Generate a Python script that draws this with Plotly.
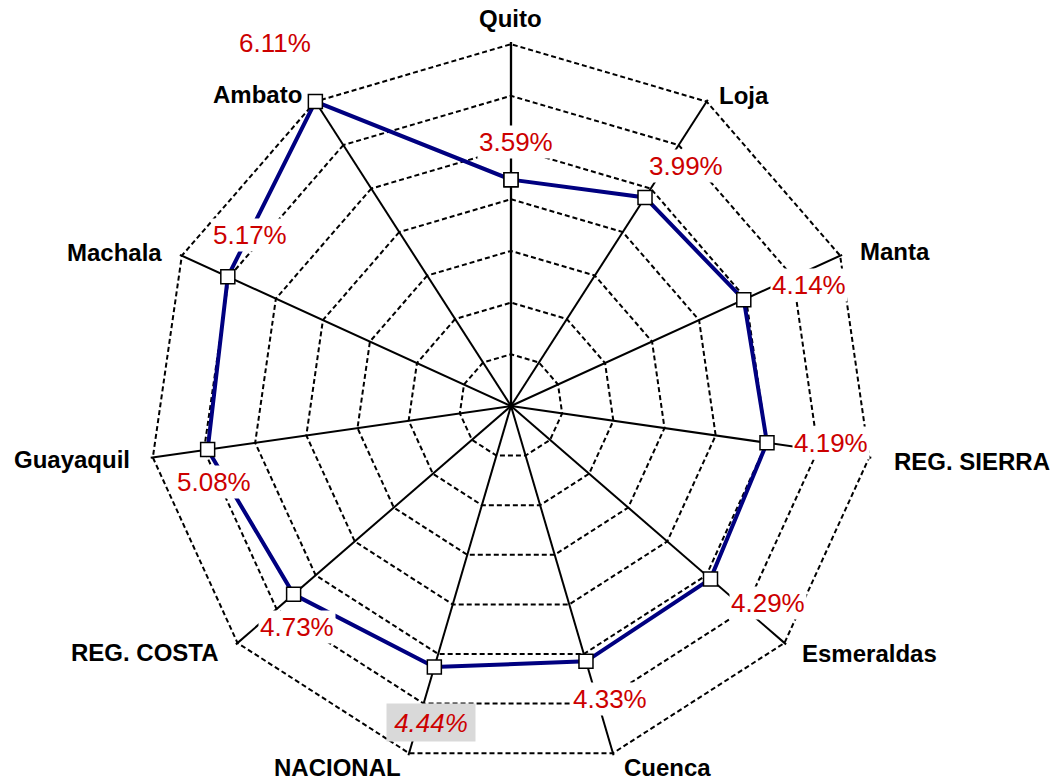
import numpy as np
import plotly.graph_objects as go

categories = ["Quito", "Loja", "Manta", "REG. SIERRA", "Esmeraldas", "Cuenca",
              "NACIONAL", "REG. COSTA", "Guayaquil", "Machala", "Ambato"]
values = [3.59, 3.99, 4.14, 4.19, 4.29, 4.33, 4.44, 4.73, 5.08, 5.17, 6.11]
value_labels = ["3.59%", "3.99%", "4.14%", "4.19%", "4.29%", "4.33%",
                "4.44%", "4.73%", "5.08%", "5.17%", "6.11%"]

# data-label offsets in pixels (dx right, dy up) relative to each point
label_dx = [5, 41, 65, 64, 57, 24, -3, 3, 6, 22, -40]
label_dy = [38, 31, 15, 0, -24, -38, -55, -33, -32, 42, 59]
# category-label offsets in pixels relative to each outer vertex
cat_dx = [-1, 37, 55, 103, 85, 55, -72, -93, -81, -67, -58]
cat_dy = [26, 6, 4, -4, -11, -14, -14, -10, -2, 3, 7]

RMIN, RMAX = -0.62, 6.11          # outermost ring sits at RMAX
RPAD = 0.04                       # tiny headroom so the outer ring is drawn
N_RINGS = 7
span = RMAX + RPAD - RMIN

W, H = 1052, 780
CX, CY, R = 511, 406, 364
dom_x = [(CX - R) / W, (CX + R) / W]
dom_y = [(H - CY - R) / H, (H - CY + R) / H]

RED = "rgb(204,0,0)"
NAVY = "#000080"
FONT = "Liberation Sans, Arial, sans-serif"

fig = go.Figure()
fig.add_trace(go.Scatterpolar(
    r=values + values[:1],
    theta=categories + categories[:1],
    mode="lines+markers",
    line=dict(color=NAVY, width=4),
    marker=dict(symbol="square", size=14, color="white",
                line=dict(color="black", width=1.5)),
    showlegend=False,
    hoverinfo="skip",
))

# invisible cartesian overlay matching the polar area, used to place labels
n = len(categories)
ang = np.deg2rad(np.arange(n) * 360.0 / n)
rr = np.array(values) - RMIN
xs = rr * np.sin(ang)
ys = rr * np.cos(ang)
router = RMAX - RMIN
vx = router * np.sin(ang)
vy = router * np.cos(ang)

annotations = []
for i in range(n):
    italic = categories[i] == "NACIONAL"
    ann = dict(
        x=xs[i], y=ys[i], xref="x", yref="y",
        text=value_labels[i], showarrow=False,
        xshift=label_dx[i], yshift=label_dy[i],
        font=dict(family=FONT, size=26, color=RED,
                  style="italic" if italic else "normal"),
        bgcolor="#d9d9d9" if italic else "white",
        borderpad=1,
    )
    if italic:
        ann.update(width=86, height=35)
    annotations.append(ann)
    annotations.append(dict(
        x=vx[i], y=vy[i], xref="x", yref="y",
        text=categories[i], showarrow=False,
        xshift=cat_dx[i], yshift=cat_dy[i],
        font=dict(family=FONT, size=24, color="black", weight="bold"),
    ))

fig.update_layout(
    width=W, height=H,
    margin=dict(l=0, r=0, t=0, b=0),
    paper_bgcolor="white",
    plot_bgcolor="rgba(0,0,0,0)",
    xaxis=dict(domain=dom_x, range=[-span, span], visible=False, fixedrange=True),
    yaxis=dict(domain=dom_y, range=[-span, span], visible=False, fixedrange=True),
    annotations=annotations,
    polar=dict(
        domain=dict(x=dom_x, y=dom_y),
        bgcolor="white",
        gridshape="linear",
        radialaxis=dict(
            range=[RMIN, RMAX + RPAD],
            tickvals=list(np.linspace(RMIN, RMAX, N_RINGS + 1)[1:]),
            showticklabels=False, ticks="",
            gridcolor="black", griddash="5px,3px", gridwidth=1.6,
            showline=True, linecolor="black", linewidth=2.3,
            angle=90, layer="below traces",
        ),
        angularaxis=dict(
            rotation=90, direction="clockwise",
            gridcolor="black", gridwidth=1.5,
            showline=False, showticklabels=False, ticks="",
            layer="below traces",
        ),
    ),
)

fig.write_html(
    "out.html",
    config={"displayModeBar": False},
    post_script="document.body.style.margin='0';document.body.style.overflow='hidden';",
)
